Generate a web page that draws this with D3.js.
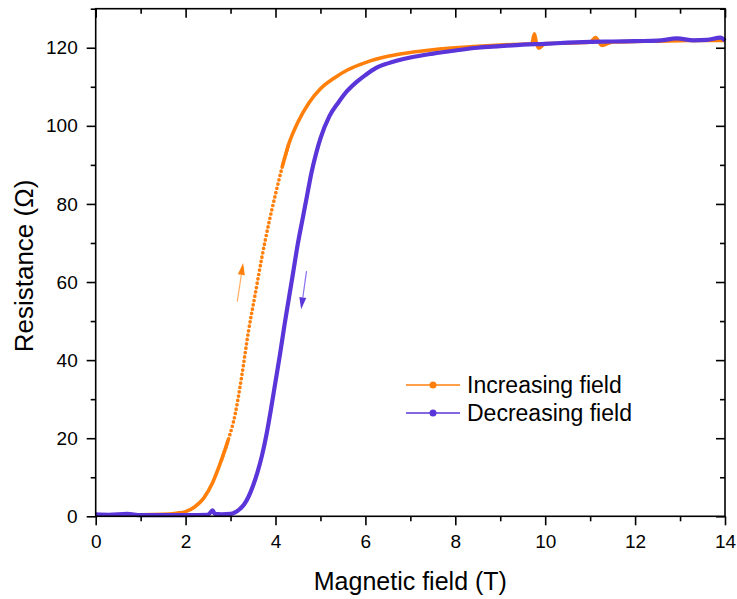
<!DOCTYPE html>
<html>
<head>
<meta charset="utf-8">
<script src="https://cdn.jsdelivr.net/npm/d3@7"></script>
<style>
    body { margin: 0; background: #fff; }
    text { font-family: Arial, "Liberation Sans", sans-serif; fill: #000; }
</style>
</head>
<body>
<div id="chart"></div>
<script>
// Magnetic field (T) vs resistance (Ohm)
const increasingField = [
    [0, 0.3], [0.5, 0.4], [1.0, 0.4], [1.5, 0.5], [1.8, 0.8], [2.0, 1.2], [2.2, 2.4],
    [2.4, 4.6], [2.6, 8.6], [2.8, 14.5], [2.95, 19.6], [3.1, 26], [3.25, 36], [3.4, 47.5],
    [3.55, 57], [3.7, 66.5], [3.85, 75], [4.0, 82.5], [4.15, 89.5], [4.3, 95.5], [4.5, 101],
    [4.75, 106], [5.0, 109.5], [5.3, 112.2], [5.6, 114.3], [6.0, 116.2], [6.5, 117.8],
    [7.0, 118.8], [7.5, 119.5], [8.0, 120], [8.5, 120.4], [9.0, 120.7], [9.5, 120.9],
    [9.7, 121], [9.76, 123.6], [9.8, 121.4], [9.86, 119.9], [10.0, 121.1], [10.5, 121.2],
    [11.0, 121.4], [11.12, 122.6], [11.26, 120.6], [11.5, 121.5], [12.0, 121.6],
    [12.5, 121.7], [13.0, 121.8], [13.5, 121.9], [14.0, 121.9]
];
const decreasingField = [
    [0, 0.5], [0.3, 0.4], [0.7, 0.6], [1.0, 0.3], [1.5, 0.3], [2.0, 0.3], [2.5, 0.4],
    [2.6, 1.5], [2.65, 0.6], [2.8, 0.5], [3.0, 0.6], [3.1, 1.0], [3.2, 1.8], [3.3, 3.0],
    [3.4, 5.0], [3.5, 7.8], [3.6, 11.3], [3.7, 15.6], [3.8, 21], [3.9, 27.5], [4.0, 34.5],
    [4.1, 41.5], [4.2, 49], [4.3, 56], [4.4, 63], [4.5, 70], [4.6, 76], [4.7, 82],
    [4.8, 88], [4.9, 92.8], [5.0, 96.8], [5.2, 102.5], [5.4, 106], [5.6, 109], [5.8, 111.2],
    [6.0, 113], [6.25, 114.9], [6.5, 116], [7.0, 117.5], [7.5, 118.5], [8.0, 119.3],
    [8.5, 120], [9.0, 120.4], [9.5, 120.8], [10, 121], [10.5, 121.3], [11, 121.5],
    [11.5, 121.6], [12, 121.7], [12.5, 121.8], [12.93, 122.4], [13.3, 121.9],
    [13.6, 122], [13.9, 122.6], [14, 121.8]
];

const xTicks = [0, 2, 4, 6, 8, 10, 12, 14];
const xMinorTicks = [1, 3, 5, 7, 9, 11, 13];
const yTicks = [0, 20, 40, 60, 80, 100, 120];
const yMinorTicks = [10, 30, 50, 70, 90, 110, 130];

const seriesNames = ['Increasing field', 'Decreasing field'];

// arrows drawn next to the curves: [from, to]
const upArrow = [[3.15, 55], [3.28, 64.9]];
const downArrow = [[4.69, 62.8], [4.57, 53]];

var state = {
    width: 737,
    height: 599,
    left: 95.7,
    right: 725,
    top: 8.7,
    bottom: 516.3,
    orange: '#ff7f0a',
    orangeLight: '#ffad63',
    purple: '#5a35d9',
    purpleLight: '#8a6ff0',
    frame: 1.6
};

let svg = d3.select('#chart')
    .append('svg')
        .attr('width', state.width)
        .attr('height', state.height)
        .style('background', '#fff');

let x = d3.scaleLinear().domain([0, 14]).range([state.left, state.right]);
let y = d3.scaleLinear().domain([0, 130]).range([state.bottom, state.top]);

drawCurves();
drawAxes();
drawArrows();
drawLegend();

function drawCurves(){
    let line = d3.line()
        .x(d => x(d[0]))
        .y(d => y(d[1]))
        .curve(d3.curveMonotoneX);

    // steep part of the sweep shows single points
    svg.append('path')
        .attr('d', line(increasingField.filter(d => d[0] >= 2.8 && d[0] <= 4.3)))
        .style('fill', 'none')
        .style('stroke', state.orange)
        .style('stroke-width', 3.7)
        .style('stroke-linecap', 'round')
        .style('stroke-dasharray', '0 4.4');

    // flat parts: points so dense they make a line
    let solid = d3.line()
        .defined(d => d[0] <= 2.95 || d[0] >= 4.15)
        .x(d => x(d[0]))
        .y(d => y(d[1]))
        .curve(d3.curveMonotoneX);

    svg.append('path')
        .attr('d', solid(increasingField))
        .style('fill', 'none')
        .style('stroke', state.orange)
        .style('stroke-width', 3.6)
        .style('stroke-linejoin', 'round');

    svg.append('path')
        .attr('d', line(decreasingField))
        .style('fill', 'none')
        .style('stroke', state.purple)
        .style('stroke-width', 4.2)
        .style('stroke-linejoin', 'round');
}

function drawAxes(){
    let frame = svg.append('g');

    // bottom, ticks out
    let bottom = frame.append('g').attr('transform', `translate(0,${state.bottom})`);
    bottom.call(d3.axisBottom(x).tickValues(xTicks).tickSize(9).tickPadding(9).tickFormat(d3.format('d')));
    bottom.append('g').call(d3.axisBottom(x).tickValues(xMinorTicks).tickSize(5).tickFormat(''));

    // left, ticks out
    let left = frame.append('g').attr('transform', `translate(${state.left},0)`);
    left.call(d3.axisLeft(y).tickValues(yTicks).tickSize(9).tickPadding(9).tickFormat(d3.format('d')));
    left.append('g').call(d3.axisLeft(y).tickValues(yMinorTicks).tickSize(5).tickFormat(''));

    // top, ticks in
    let top = frame.append('g').attr('transform', `translate(0,${state.top})`);
    top.call(d3.axisBottom(x).tickValues(xTicks).tickSize(9).tickFormat(''));
    top.append('g').call(d3.axisBottom(x).tickValues(xMinorTicks).tickSize(5).tickFormat(''));

    // right, ticks in
    let right = frame.append('g').attr('transform', `translate(${state.right},0)`);
    right.call(d3.axisLeft(y).tickValues(yTicks).tickSize(9).tickFormat(''));
    right.append('g').call(d3.axisLeft(y).tickValues(yMinorTicks).tickSize(5).tickFormat(''));

    frame.selectAll('.domain')
        .attr('d', null);
    frame.selectAll('.tick line')
        .style('stroke', '#000')
        .style('stroke-width', state.frame);
    frame.selectAll('.tick text')
        .style('font-size', '19px')
        .style('font-family', 'Arial, "Liberation Sans", sans-serif')
        .style('fill', '#000');

    frame.append('rect')
        .attr('x', state.left)
        .attr('y', state.top)
        .attr('width', state.right - state.left)
        .attr('height', state.bottom - state.top)
        .style('fill', 'none')
        .style('stroke', '#000')
        .style('stroke-width', state.frame);

    svg.append('text')
        .attr('x', (state.left + state.right) / 2)
        .attr('y', 590)
        .attr('text-anchor', 'middle')
        .style('font-size', '25px')
        .text('Magnetic field (T)');

    svg.append('text')
        .attr('transform', 'translate(33,266) rotate(-90)')
        .attr('text-anchor', 'middle')
        .style('font-size', '26px')
        .text('Resistance (Ω)');
}

/**
Thin shaft with a filled head, from p[0] to p[1] in data units
*/
function arrow(p, shaftColor, headColor){
    let x0 = x(p[0][0]), y0 = y(p[0][1]);
    let x1 = x(p[1][0]), y1 = y(p[1][1]);
    let len = Math.hypot(x1 - x0, y1 - y0);
    let ux = (x1 - x0) / len, uy = (y1 - y0) / len;
    let headLen = 12, headW = 3.5;
    let bx = x1 - ux * headLen, by = y1 - uy * headLen;

    svg.append('line')
        .attr('x1', x0).attr('y1', y0)
        .attr('x2', bx).attr('y2', by)
        .style('stroke', shaftColor)
        .style('stroke-width', 1.2);

    svg.append('path')
        .attr('d', `M${x1},${y1}L${bx - uy * headW},${by + ux * headW}L${bx + uy * headW},${by - ux * headW}Z`)
        .style('fill', headColor);
}

function drawArrows(){
    arrow(upArrow, state.orangeLight, state.orange);
    arrow(downArrow, state.purpleLight, state.purple);
}

function drawLegend(){
    let colors = [state.orange, state.purple];
    let legend = svg.append('g');

    let rows = legend.selectAll('g')
        .data(seriesNames)
        .enter()
        .append('g')
            .attr('transform', (d, i) => `translate(0,${385 + i * 28})`);

    rows.append('line')
        .attr('x1', 406).attr('x2', 460)
        .style('stroke', (d, i) => colors[i])
        .style('stroke-width', 1.3);

    rows.append('circle')
        .attr('cx', 433)
        .attr('r', 3.5)
        .style('fill', (d, i) => colors[i]);

    rows.append('text')
        .attr('x', 467)
        .attr('y', 8)
        .style('font-size', '23px')
        .text(d => d);
}
</script>
</body>
</html>
